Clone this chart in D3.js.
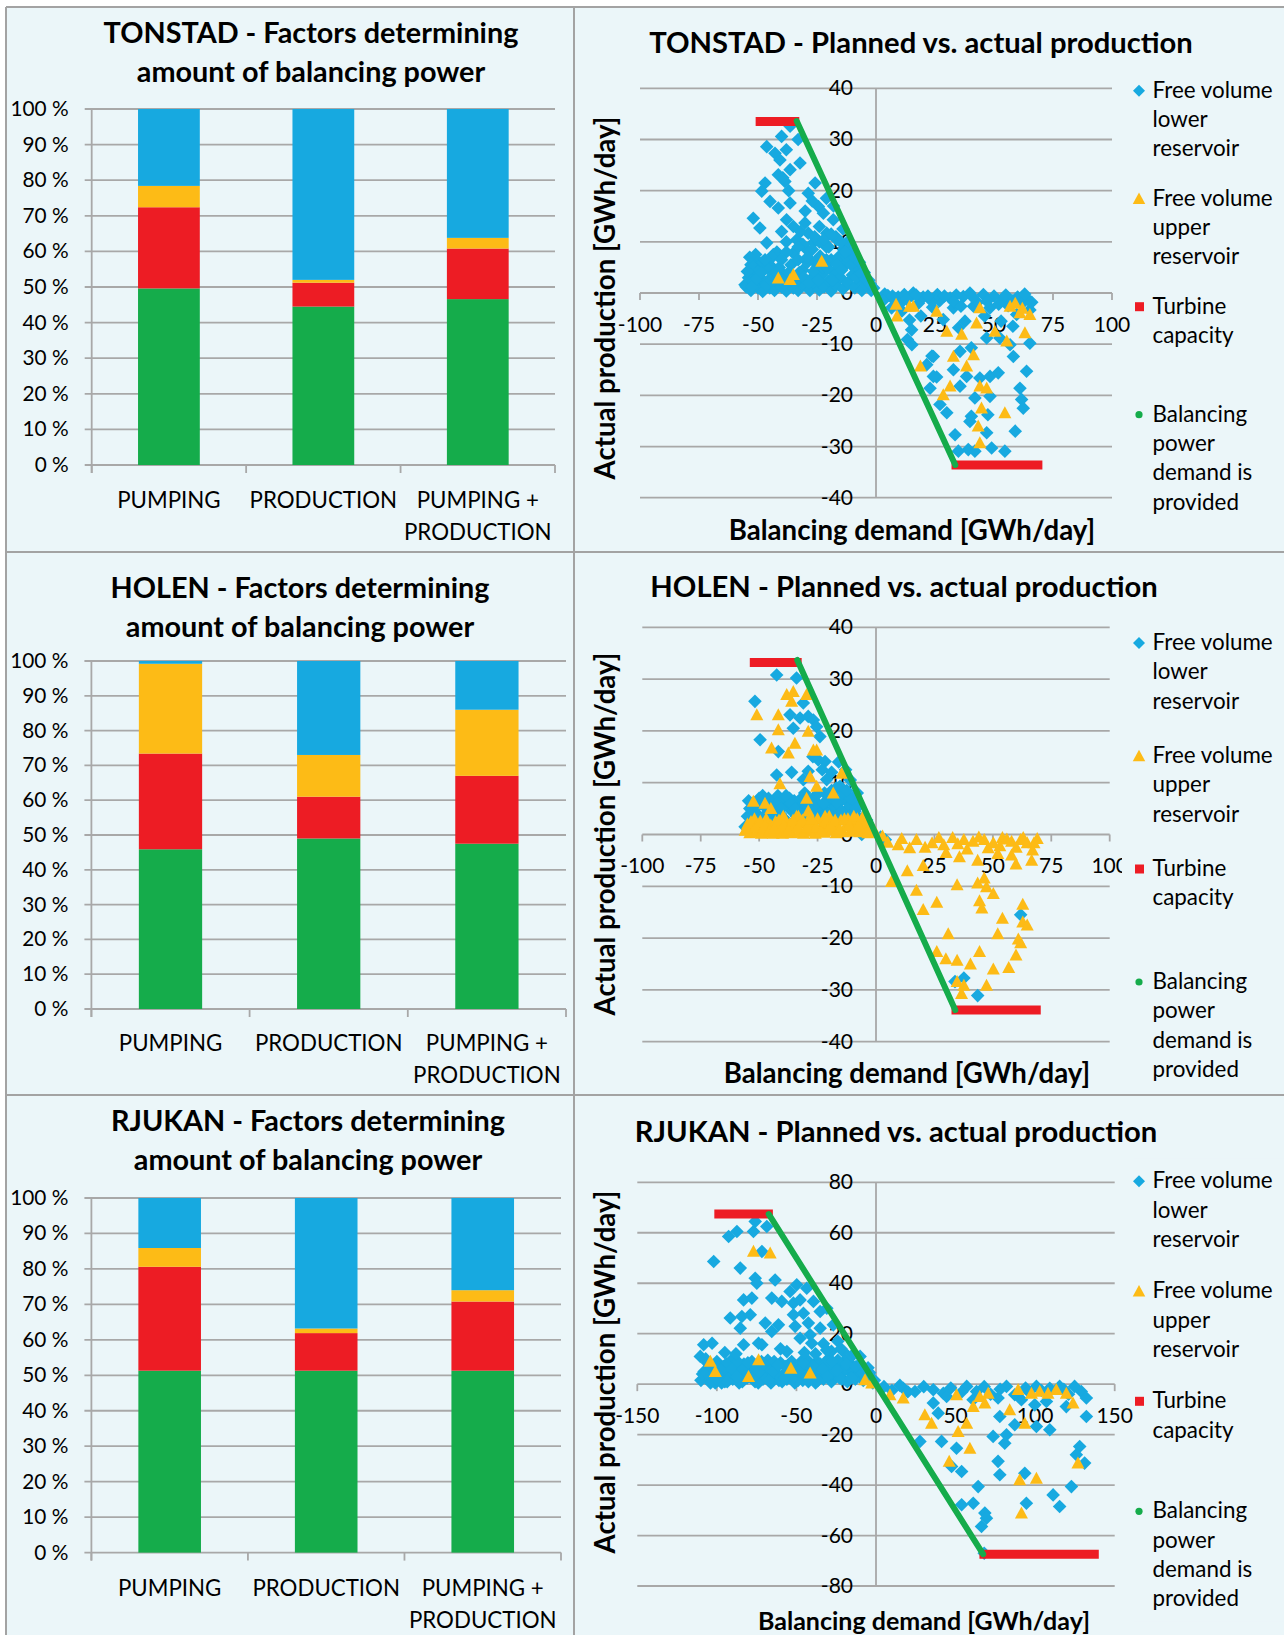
<!DOCTYPE html>
<html>
<head>
<meta charset="utf-8">
<script src="https://cdn.jsdelivr.net/npm/d3@7"></script>
<style>
  html, body { margin: 0; padding: 0; background: #ffffff; }
  svg { display: block; font-family: Lato, "Open Sans", sans-serif; }
</style>
</head>
<body>
<svg id="chart" width="1284" height="1635"></svg>
<script>
// ------------------------------------------------------------------
// Data
// ------------------------------------------------------------------
const categories = ["PUMPING", "PRODUCTION", "PUMPING + PRODUCTION"];
const pctTicks = [0, 10, 20, 30, 40, 50, 60, 70, 80, 90, 100];

// Share (%) of days where each factor determined the amount of balancing power
const tonstadProvidedShare = [49.6, 44.5, 46.6];
const tonstadTurbineShare  = [22.8, 6.7, 14.2];
const tonstadUpperShare    = [6.0, 0.8, 3.0];
const tonstadLowerShare    = [21.6, 48.0, 36.2];

const holenProvidedShare = [45.9, 49.0, 47.5];
const holenTurbineShare  = [27.5, 12.0, 19.5];
const holenUpperShare    = [25.8, 12.0, 19.0];
const holenLowerShare    = [0.8, 27.0, 14.0];

const rjukanProvidedShare = [51.3, 51.3, 51.3];
const rjukanTurbineShare  = [29.3, 10.6, 19.5];
const rjukanUpperShare    = [5.3, 1.3, 3.2];
const rjukanLowerShare    = [14.1, 36.8, 26.0];

// Scatter axes ticks
const tickStep25 = [-100, -75, -50, -25, 0, 25, 50, 75, 100];
const tickStep50 = [-150, -100, -50, 0, 50, 100, 150];
const yTicks40 = [-40, -30, -20, -10, 0, 10, 20, 30, 40];
const yTicks80 = [-80, -60, -40, -20, 0, 20, 40, 60, 80];

// TONSTAD: [balancing demand, actual production] in GWh/day
const tonstadLowerPts = [
  [-36.4,32.6],[-40,30.6],[-46.3,28.6],[-42.8,27.3],[-40.7,26],[-32.2,25.4],[-36.4,24.1],[-41.4,23.1],
  [-38.6,21.8],[-47,21.5],[-48.4,19.9],[-25.8,21.5],[-28.7,19.5],[-44.9,17.9],[-36.4,17.6],[-41.4,16.6],
  [-24.4,16.9],[-22.3,15.6],[-52,14.6],[-49.2,12.7],[-37.9,14.3],[-30.1,13.7],[-40,12],[-33.6,10.4],
  [-46.3,9.8],[-28.7,11.7],[-18.1,14.3],[-20.9,11.7],[-26.6,9.8],[-43.5,7.5],[-50.6,6.5],[-35,7.8],
  [-29.4,8.5],[-23.7,7.2],[-13.8,8.5],[-16.7,10.4],[-11.7,9.8],[-49.2,5.2],[-52.7,3.3],[-55.5,1.6],
  [-38,28],[-39.5,22.5],[-37,20],[-27,18],[-30,16],[-35,13],[-32,12],[-24,13],[-21,9],[-31,9.5],
  [-38,10],[-45,5.5],[-42,8],[-26,6],[-19,6.5],[-15,7],[-33,30],
  [-55,1.2],[-54,3],[-53,0.5],[-52,2.2],[-51,4.5],[-50,1],[-49,3],[-48,0.3],[-47,2],[-46,4.8],
  [-45,1],[-44,3.2],[-43,0.5],[-42,2],[-41,5],[-40,1.2],[-39,3.5],[-38,0.4],[-37,2.5],[-36,5.5],
  [-35,1],[-34,3],[-33,0.5],[-32,2],[-31,4.5],[-30,1.5],[-29,6],[-28,0.5],[-27,3],[-26,1.8],
  [-25,5],[-24,0.6],[-23,3.5],[-22,1.2],[-21,6.5],[-20,2.4],[-19,0.4],[-18,4],[-17,1.5],[-16,7],
  [-15,3],[-14,0.8],[-13,5.5],[-12,2],[-11,8],[-10,3.5],[-9,1],[-8,5],[-7,2.5],[-6,0.5],
  [-5,4],[-4,1.5],[-3,2.5],[-2,0.5],[-1,1],[-53,5.5],[-48,6],[-44,7],[-38,8],[-33,9],
  [-27,8.5],[-24,10],[-20,9],[-17,11],[-14,12.5],[-12,10],
  [-54.5,4.2],[-52.5,1.2],[-50.5,2.8],[-48.5,4],[-46.5,1.5],[-44.5,2.5],[-42.5,4],[-40.5,2.8],
  [-38.5,1.8],[-36.5,3.8],[-34.5,2],[-32.5,4],[-30.5,3],[-28.5,2],[-26.5,4.2],[-24.5,2.5],
  [-22.5,5],[-20.5,4.8],[-18.5,2.5],[-16.5,5.5],[-14.5,4.5],[-12.5,7],[-10.5,5.5],[-8.5,3],
  [-6.5,3.8],[-4.5,2.8],[-2.5,1.8],[-26,11],[-22,10.5],[-19,11.5],[-15,10],[-13,8],[-9,7],
  [-7,6],[-18,17],[-21,18.5],[-29,7],[-33,6.5],[-40,6.5],[-37,4],[-47,6.5],[-51,7.5],[-53.5,7],
  [3.7,-0.2],[9.4,-0.8],[15.2,-0.5],[6.6,-2.9],[14.2,-5.3],[13.3,-9.1],[15.2,-10.1],[23.7,-12.3],
  [25.7,-16.4],[15.8,0],[23.6,-1.6],[31.4,-1],[37,-0.7],[39.8,0],[45.5,-0.3],[53.9,-1],[64.5,-1.3],
  [32.8,-2.9],[41.3,-2.6],[48.3,-2.9],[59.6,-4.2],[65.2,-3.3],[28.5,-5.2],[37.7,-5.5],[15.1,-7.2],
  [46.9,-8.8],[52.5,-8.8],[65.2,-9.8],[56.8,-10.1],[24.3,-12.4],[35.6,-11.4],[40.4,-10.7],[58.2,-12.4],
  [21.5,-14],[32.8,-15],[63.8,-15.3],[24.3,-16.3],[38.4,-16.3],[44,-16.6],[48.3,-16.3],[51.8,-15.6],
  [22.9,-18.6],[35.6,-18.2],[61,-18.6],[41.9,-20.5],[48.3,-20.2],[61.7,-20.8],[27.1,-21.8],[62.4,-22.5],
  [30,-23.4],[40.4,-24.1],[47.4,-23.8],[39.8,-25.1],[59,-27],[33.5,-27.7],[46.9,-27.3],[34.9,-30.9],
  [39.1,-30.6],[41.9,-30.9],[49,-30.3],[54.6,-30.9],
  [5,-0.5],[8,-1.5],[12,-0.3],[18,-2],[20,-0.8],[27,-1.5],[34,-0.4],[43,-1.8],[50,-0.6],[56,-2.5],
  [60,-0.8],[62,-2],[11,-3.5],[19,-4.5],[26,-0.3],
  [3,-1.5],[7,-0.6],[10,-2.2],[13,-1.2],[17,-0.4],[22,-0.6],[24,-2.8],[29,-0.6],[33,-1.7],[36,-2.6],
  [41,-0.8],[47,-1.6],[52,-2.2],[55,-0.4],[58,-1.5],[63,-0.2],[66,-1.8],[46,-4.5],[53,-5.5],[58,-6.5],
  [35,-6.8]
];
const tonstadUpperPts = [
  [-41.4,2.9],[-35,3.6],[-36.4,2.6],[-23,6.2],
  [8.5,-2.2],[14.2,-2.6],[8.9,-4.5],[15.8,-2.6],[25.7,-3.6],[44,-2.9],[56.8,-2.6],[61,-3.9],
  [65.2,-4.2],[42.6,-5.9],[50.4,-7.5],[30,-7.5],[63.1,-7.8],[36.3,-8.1],[55.4,-9.4],[32.8,-12.4],
  [41.3,-12.1],[18.8,-14.3],[38.4,-14.3],[31.4,-18.2],[28.5,-19.9],[44,-18.2],[46.9,-18.6],
  [44.7,-22.5],[54.6,-23.4],[43.3,-26],[44,-29.3],[59,-2],[62,-3]
];
const tonstadTurbineTop    = [[-51, 33.5], [-32.5, 33.5]];
const tonstadTurbineBottom = [[32, -33.6], [70.5, -33.6]];
const tonstadProvided      = [[-33.6, 33.6], [33.6, -33.6]];

// HOLEN
const holenLowerPts = [
  [-42.5,30.8],[-34,30.2],[-51.8,25.7],[-31.1,25.4],[-36.8,23.1],[-32.5,22.5],[-29,22.8],[-26.8,22.1],
  [-35.4,20.5],[-25.4,20.8],[-49.6,18.3],[-41.8,16],[-24,18.9],[-24.7,14.4],[-21.8,14.1],[-42.5,11.5],
  [-36.1,12],[-29,12.2],[-21.1,10.6],[-31.1,10.6],[-15.4,9.3],[-13.3,6.7],[-9.7,6],[-56,1.5],
  [-6.1,0],[-4,2.8],[-23,12.5],[-27,15],[-19,8.5],
  [-55,3.5],[-54,5],[-53,2.5],[-52,6],[-51,4],[-50,7],[-49,3],[-48,5.5],[-47,4],[-46,7],
  [-45,3.5],[-44,6],[-43,5],[-42,7.5],[-41,4],[-40,6.5],[-39,3],[-38,5.5],[-37,7],[-36,4.5],
  [-35,6.5],[-34,3.5],[-33,5],[-32,7],[-31,4],[-30,6],[-29,3],[-28,5],[-27,7],[-26,4],
  [-25,6],[-24,3],[-23,5],[-22,8],[-21,4.5],[-20,6.5],[-19,3.5],[-18,5],[-17,9],[-16,4],
  [-15,6.5],[-14,8],[-13,3],[-12,5],[-11,7],[-10,2.5],[-9,4.5],[-8,6],[-7,3],[-6,1],
  [-5,3.5],[-4,2],[-3,1],
  [-54.5,6.5],[-52.5,4.5],[-50.5,5.5],[-48.5,7.5],[-46.5,5.5],[-44.5,4.5],[-42.5,6],[-40.5,5],
  [-38.5,7.5],[-36.5,6],[-34.5,5],[-32.5,4],[-30.5,8],[-28.5,6.5],[-26.5,5.5],[-24.5,8],
  [-22.5,6],[-20.5,4],[-18.5,7.5],[-16.5,6],[-14.5,4.5],[-12.5,8.5],[-10.5,4],[-8.5,5],
  [-11,10.5],[-8,8],[-19,12],[-13,12.5],[-16,14],
  [61.9,-15.5],[33.8,-28.4],[37.6,-27.7],[43.5,-31.1],[2,-0.5],[4,-1]
];
const holenUpperPts = [
  [-38.2,27],[-35.4,27.6],[-29.7,27],[-36.1,25.7],[-51,23.1],[-41.8,23.1],[-41.8,20.2],[-29,19.9],
  [-34.7,17.6],[-44.7,16.7],[-37.5,15.7],[-26.8,16.3],[-25.4,16.3],[-14.7,11.8],[-28.2,11.2],
  [-41.1,9.8],[-25.4,9.3],[-18.3,8],[-29.7,7],[-52.5,6.4],[-47.5,6],
  [-56,0.8],[-55,2],[-54,0.3],[-53,1.5],[-52,3],[-51,0.5],[-50,2],[-49,0.2],[-48,1.2],[-47,3],
  [-46,0.4],[-45,1.8],[-44,0.2],[-43,2.5],[-42,0.8],[-41,1.5],[-40,0.2],[-39,3],[-38,1],[-37,2],
  [-36,0.3],[-35,1.5],[-34,3.5],[-33,0.5],[-32,2.2],[-31,0.2],[-30,1.2],[-29,2.8],[-28,0.6],[-27,1.8],
  [-26,0.2],[-25,3],[-24,1],[-23,2],[-22,0.4],[-21,1.5],[-20,3.5],[-19,0.8],[-18,2],[-17,0.3],
  [-16,1.2],[-15,2.8],[-14,0.5],[-13,1.6],[-12,3],[-11,0.6],[-10,2],[-9,1],[-8,3],[-7,0.5],
  [-6,1.8],[-5,0.8],[-4,2.5],[-3,1.2],[-2,0.5],[-1,1],
  [-39.7,3.5],[-33.2,3.5],[-21.8,3.5],[-45,5],[-29,4.5],
  [-55.5,1.2],[-53.5,2.5],[-51.5,1.5],[-49.5,2.6],[-47.5,1.8],[-45.5,0.8],[-43.5,1.2],[-41.5,2.8],
  [-39.5,1.8],[-37.5,0.8],[-35.5,2.8],[-33.5,1.5],[-31.5,2.8],[-29.5,1.5],[-27.5,3],[-25.5,1.5],
  [-23.5,0.6],[-21.5,2.8],[-19.5,1.8],[-17.5,2.8],[-15.5,1],[-13.5,3],[-11.5,1.8],[-9.5,3.5],
  [-7.5,1.8],[-5.5,3.5],[-3.5,0.3],
  [2.8,-0.3],[9.5,-2],[14.4,-2.6],[17.3,-1],[24,-1.6],[26.9,-0.6],[32.8,-0.6],[37.6,-1],[41.5,-1.3],
  [46.3,-1],[50.2,-1.6],[54.1,-0.6],[58,-1.3],[61.9,-1],[64.7,-1.6],[67.6,-1.6],[35.7,-4.3],[43.5,-5],
  [52.1,-3.7],[59.9,-5.7],[66.6,-5],[20.2,-6],[13.4,-7],[6.6,-9.1],[34.7,-9.7],[43.5,-9.4],[46.3,-8.4],
  [47.3,-10.1],[17.3,-10.8],[50.2,-11.4],[44.3,-12.8],[45.3,-14.2],[26,-13.1],[20.2,-14.5],[62.8,-13.5],
  [54.1,-16.2],[62.8,-16.9],[64.7,-17.5],[30.9,-19.2],[52.1,-19.2],[60.9,-20.2],[61.9,-20.9],[26,-22.6],
  [29.9,-24],[34.7,-24.3],[44.3,-22.6],[40.4,-25],[59.9,-23.3],[50.2,-26],[56.8,-25.7],[34.7,-28.4],
  [37.6,-29.1],[36.6,-30.7],[47.3,-29.1],
  [5,-1.5],[11,-0.8],[21,-2.5],[29,-2],[35,-1.8],[39,-2.8],[44,-0.5],[48,-2.6],[53,-2.2],[56,-0.9],
  [60,-2.5],[63,-0.6],[67,-3],[69,-0.8],[30,-3.5],[58,-4]
];
const holenTurbineTop    = [[-54, 33.2], [-31.8, 33.2]];
const holenTurbineBottom = [[32.3, -33.9], [70.5, -33.9]];
const holenProvided      = [[-33.7, 33.7], [33.9, -33.9]];

// RJUKAN
const rjukanLowerPts = [
  [-75.9,64.5],[-68.6,62.5],[-77,60.5],[-92.6,58.5],[-87.4,60.5],[-71.7,52.6],[-102,48.6],[-85.3,46],
  [-75.9,42],[-74.9,40],[-63.4,41.3],[-49.8,39.4],[-54,36.7],[-43.5,38],[-83.2,33.4],[-78,34.1],
  [-65.5,34.1],[-59.2,32.8],[-51.9,32.1],[-47.7,33.4],[-39.3,32.8],[-91.6,26.2],[-84.3,26.8],[-79,27.5],
  [-85.3,22.2],[-69.6,24.2],[-61.3,23.5],[-51.9,27.5],[-45.6,28.1],[-42.5,24.2],[-35.1,28.8],[-30.9,30.1],
  [-65.5,20.9],[-50.8,22.9],[-47.7,18.2],[-41.4,19.6],[-40.4,16.2],[-35.1,22.2],[-26.8,23.5],[-108.3,15.6],
  [-103,16.2],[-83.2,15.6],[-73.8,16.2],[-71.7,15.6],[-110.4,11],[-56,12.9],[-20.5,12.9],[-18.4,9],
  [-110,1.5],[-108,5],[-106,8.5],[-105,2.5],[-103,6],[-101,0.5],[-100,9],[-98,3.5],[-96,7],[-95,1],
  [-93,4.5],[-91,9.5],[-90,2],[-88,6.5],[-86,0.5],[-85,4],[-83,8],[-81,2.5],[-80,5.5],[-78,9],
  [-76,1],[-75,4],[-73,7],[-71,2],[-70,5],[-68,9.5],[-66,0.5],[-65,3.5],[-63,6.5],[-61,1.5],
  [-60,8.5],[-58,4],[-56,2],[-55,6],[-53,9],[-51,0.5],[-50,3.5],[-48,7],[-46,1.5],[-45,5],
  [-43,9.5],[-41,2.5],[-40,6],[-38,0.5],[-36,4],[-35,8],[-33,2],[-31,5.5],[-30,10],[-28,1],
  [-26,4],[-25,7.5],[-23,2.5],[-21,6],[-20,9],[-18,1],[-16,4.5],[-15,7.5],[-13,2],[-11,5],
  [-10,8],[-8,1.5],[-6,4],[-5,6.5],[-3,2],[-2,0.5],[-28,13],[-33,16],[-24,17],
  [-109,4],[-107,10],[-104,0.5],[-102,3.5],[-99,7],[-97,0.5],[-94,8],[-92,2.5],[-89,5],[-87,9],
  [-84,1],[-82,5.5],[-79,3],[-77,7],[-74,0.5],[-72,9],[-69,2.5],[-67,6],[-64,9],[-62,4],
  [-59,1],[-57,7],[-54,3.5],[-52,5.5],[-49,1.5],[-47,9],[-44,3],[-42,7],[-39,4],[-37,9],
  [-34,5],[-32,8],[-29,3.5],[-27,6],[-24,9.5],[-22,4],[-19,6.5],[-17,10],[-14,5],[-12,3.5],
  [-9,6],[-7,3],[-4,4.5],[-1,1.5],
  [-106.5,4.5],[-104.5,7.5],[-100.5,2],[-97.5,5.5],[-93.5,1],[-90.5,6],[-87.5,3],[-83.5,6],
  [-80.5,8.5],[-77.5,2.5],[-73.5,5],[-70.5,8],[-67.5,1.5],[-64.5,5],[-61.5,7.5],[-57.5,2.5],
  [-54.5,8],[-51.5,3],[-48.5,5],[-45.5,8.5],[-42.5,1],[-39.5,7],[-36.5,1.5],[-33.5,6],[-30.5,3],
  [-27.5,9],[-24.5,5.5],[-21.5,2],[-18.5,8],[-15.5,2.5],[-12.5,7],[-8.5,4.5],[-10,11],[-14,12],
  [-22,14],[-31,13.5],[-38,12],[-45,12.5],[-60,14],[-88,12],[-95,12.5],
  [17.1,-1.6],[24.5,-2.9],[36,-2.2],[42.3,-3.6],[57,-0.9],[63.2,-2.9],[82,-0.9],[87.2,-4.2],[100.8,-0.9],
  [109.2,-1.6],[115.4,-0.9],[124.8,-0.9],[129,-2.9],[132.2,-5.5],[36,-7.5],[44.4,-4.9],[61,-6.2],
  [76.7,-5.5],[91.4,-6.2],[99.8,-8.2],[107.1,-6.9],[119.6,-8.9],[132.2,-12.8],[39.1,-11.5],[77.8,-12.8],
  [87.2,-16.1],[100.8,-16.8],[109.2,-18.1],[73.6,-20.7],[82,-20.1],[80.9,-23.4],[27.6,-22.7],[41.2,-22.7],
  [50.6,-25.4],[128,-24.7],[125.9,-28],[131.1,-31.3],[47.5,-32.6],[53.8,-34.6],[76.7,-30.6],[77.8,-35.9],
  [93.5,-35.3],[122.8,-40.6],[64.2,-40.6],[111.3,-43.9],[115.4,-48.5],[53.8,-47.8],[61.1,-47.2],
  [94.5,-47.2],[68.4,-51.1],[69.4,-53.1],[66.3,-56.4],
  [5,-1],[10,-2.5],[15,-0.5],[20,-3],[30,-1],[47,-1.5],[54,-3],[68,-1],[72,-4],[78,-2],[94,-1.5],
  [96,-3],[104,-2.5],[118,-2],[121,-4],[68,-67]
];
const rjukanUpperPts = [
  [-77,52.6],[-66.5,51.9],[-104.1,9],[-101,5],[-80.1,3],[-73.8,9.6],[-53.5,6.3],[-41.4,4.4],
  [-6.9,1.7],[-2.7,0.4],[8.8,-4.2],
  [17.1,-5.5],[30.7,-12.2],[34.9,-15.5],[50.6,-4.2],[51.6,-18.8],[57,-15.5],[61.1,-8.9],[65.2,-4.9],
  [70.5,-3.6],[68.4,-7.5],[59,-25.4],[46,-30.6],[84,-10.2],[89.3,-2.2],[93.5,-15.5],[97.7,-3.6],
  [102.9,-2.9],[108.1,-3.6],[113.3,-2.2],[119.6,-3.6],[123.8,-7.5],[90.3,-37.9],[100.8,-37.3],
  [91.4,-51.1],[126.9,-31.3]
];
const rjukanTurbineTop    = [[-101.6, 67.4], [-64.8, 67.4]];
const rjukanTurbineBottom = [[65, -67.4], [140, -67.4]];
const rjukanProvided      = [[-67.4, 67.4], [67.3, -67.4]];

// ------------------------------------------------------------------
// Style
// ------------------------------------------------------------------
const W = 1284, H = 1635;
const PANEL_BG = "#EBF6F9";
const FRAME = "#A3A3A3";
const GRID = "#A8A8A8";
const C_PROVIDED = "#15AC4B";
const C_TURBINE = "#ED1C24";
const C_UPPER = "#FDBB16";
const C_LOWER = "#17A9E0";

const svg = d3.select("#chart");

// Panel background and dividing lines
svg.append("rect").attr("x", 6).attr("y", 7).attr("width", W - 6).attr("height", H - 7)
  .attr("fill", PANEL_BG);
const frame = svg.append("g").attr("stroke", FRAME).attr("stroke-width", 2);
[[6, 7, 6, H], [6, 7, W, 7], [574, 7, 574, H], [6, 552, W, 552], [6, 1095, W, 1095]]
  .forEach(([x1, y1, x2, y2]) => frame.append("line")
    .attr("x1", x1).attr("y1", y1).attr("x2", x2).attr("y2", y2));

// ------------------------------------------------------------------
// Stacked 100 % bar chart
// ------------------------------------------------------------------
function drawFactorBars(opt) {
  const g = svg.append("g");
  const rows = categories.map((c, i) => ({
    cat: c,
    provided: opt.provided[i],
    turbine: opt.turbine[i],
    upper: opt.upper[i],
    lower: opt.lower[i]
  }));
  const keys = ["provided", "turbine", "upper", "lower"];
  const colors = { provided: C_PROVIDED, turbine: C_TURBINE, upper: C_UPPER, lower: C_LOWER };

  const x = d3.scaleBand().domain(categories).range([opt.x0, opt.x1])
    .paddingInner(0.6).paddingOuter(0.3);
  const y = d3.scaleLinear().domain([0, 100]).range([opt.yBot, opt.yTop]);
  const step = x.step();

  // gridlines (0 % doubles as the category axis)
  g.append("g").selectAll("line").data(pctTicks).join("line")
    .attr("x1", opt.x0 - 7).attr("x2", opt.x1)
    .attr("y1", d => y(d)).attr("y2", d => y(d))
    .attr("stroke", GRID).attr("stroke-width", 1.8);
  // value axis
  g.append("line").attr("x1", opt.x0).attr("x2", opt.x0)
    .attr("y1", y(100)).attr("y2", y(0) + 8)
    .attr("stroke", GRID).attr("stroke-width", 1.8);
  // category boundary ticks
  g.append("g").selectAll("line").data(d3.range(categories.length + 1)).join("line")
    .attr("x1", i => opt.x0 + i * step).attr("x2", i => opt.x0 + i * step)
    .attr("y1", y(0)).attr("y2", y(0) + 8)
    .attr("stroke", GRID).attr("stroke-width", 1.8);

  // stacked bars
  const stacked = d3.stack().keys(keys)(rows);
  g.append("g").selectAll("g").data(stacked).join("g")
    .attr("fill", s => colors[s.key])
    .selectAll("rect").data(s => s).join("rect")
    .attr("x", d => x(d.data.cat))
    .attr("width", x.bandwidth())
    .attr("y", d => y(d[1]))
    .attr("height", d => y(d[0]) - y(d[1]));

  // tick labels
  g.append("g").selectAll("text").data(pctTicks).join("text")
    .attr("x", opt.x0 - 23).attr("y", d => y(d) + 7)
    .attr("text-anchor", "end").attr("font-size", 20.8).attr("fill", "#000")
    .text(d => d + " %");

  // category labels (wrapped after "+")
  categories.forEach(c => {
    const lines = c.replace("+ ", "+\n").split("\n");
    lines.forEach((ln, k) => {
      g.append("text")
        .attr("x", x(c) + x.bandwidth() / 2)
        .attr("y", opt.catBase + k * 32)
        .attr("text-anchor", "middle").attr("font-size", 22.3).attr("fill", "#000")
        .text(ln);
    });
  });

  // title
  [opt.station + " - Factors determining", "amount of balancing power"].forEach((t, k) => {
    g.append("text").attr("x", opt.titleX).attr("y", opt.titleBase + k * 39)
      .attr("text-anchor", "middle").attr("font-size", 28.8).attr("font-weight", 700)
      .attr("fill", "#000").text(t);
  });
}

// ------------------------------------------------------------------
// Scatter: planned vs. actual production
// ------------------------------------------------------------------
const diamond = r => `M0,${-r}L${r},0L0,${r}L${-r},0Z`;
const triangle = (w, h) => `M0,${-h * 0.55}L${w / 2},${h * 0.45}L${-w / 2},${h * 0.45}Z`;

function drawProductionScatter(opt) {
  const g = svg.append("g");
  const x = d3.scaleLinear().domain(d3.extent(opt.xTicks)).range([opt.xL, opt.xR]);
  const y = d3.scaleLinear().domain(d3.extent(opt.yTicks)).range([opt.yB, opt.yT]);
  const x0 = x(0), y0 = y(0);

  // horizontal gridlines
  g.append("g").selectAll("line").data(opt.yTicks).join("line")
    .attr("x1", opt.xL).attr("x2", opt.xR)
    .attr("y1", d => y(d)).attr("y2", d => y(d))
    .attr("stroke", GRID).attr("stroke-width", 1.8);
  // vertical axis through x = 0
  g.append("line").attr("x1", x0).attr("x2", x0)
    .attr("y1", opt.yT).attr("y2", opt.yB)
    .attr("stroke", GRID).attr("stroke-width", 1.8);
  // tick marks on the horizontal axis
  g.append("g").selectAll("line").data(opt.xTicks).join("line")
    .attr("x1", d => x(d)).attr("x2", d => x(d))
    .attr("y1", y0).attr("y2", y0 + 7)
    .attr("stroke", GRID).attr("stroke-width", 1.8);

  // tick labels
  g.append("g").selectAll("text").data(opt.xTicks).join("text")
    .attr("x", d => x(d)).attr("y", y0 + 38.5)
    .attr("text-anchor", "middle").attr("font-size", 21).attr("fill", "#000")
    .text(d => d);
  g.append("g").selectAll("text").data(opt.yTicks).join("text")
    .attr("x", x0 - 23).attr("y", d => y(d) + 7)
    .attr("text-anchor", "end").attr("font-size", 21).attr("fill", "#000")
    .text(d => d);

  // free volume lower reservoir
  g.append("g").attr("fill", C_LOWER).selectAll("path").data(opt.lower).join("path")
    .attr("d", diamond(6.8))
    .attr("transform", d => `translate(${x(d[0])},${y(d[1])})`);
  // free volume upper reservoir
  g.append("g").attr("fill", C_UPPER).selectAll("path").data(opt.upper).join("path")
    .attr("d", triangle(13, 12))
    .attr("transform", d => `translate(${x(d[0])},${y(d[1])})`);
  // turbine capacity limits
  const line = d3.line().x(d => x(d[0])).y(d => y(d[1]));
  [opt.turbineTop, opt.turbineBottom].forEach(seg => {
    g.append("path").attr("d", line(seg)).attr("fill", "none")
      .attr("stroke", C_TURBINE).attr("stroke-width", 9);
  });
  // balancing power demand is provided
  g.append("path").attr("d", line(opt.provided)).attr("fill", "none")
    .attr("stroke", C_PROVIDED).attr("stroke-width", 6).attr("stroke-linecap", "round");

  // legend
  const items = [
    { lines: ["Free volume", "lower", "reservoir"], mark: "diamond" },
    { lines: ["Free volume", "upper", "reservoir"], mark: "triangle" },
    { lines: ["Turbine", "capacity"], mark: "square" },
    { lines: ["Balancing", "power", "demand is", "provided"], mark: "dot" }
  ];
  const lg = g.append("g");
  lg.append("rect").attr("x", opt.legendX).attr("y", opt.legendTop - 30)
    .attr("width", W - opt.legendX).attr("height", opt.legendGap * 3 + 3 * 29.3 + 45)
    .attr("fill", PANEL_BG);
  items.forEach((it, i) => {
    const base = opt.legendTop + i * opt.legendGap;
    const my = base - 7;
    if (it.mark === "diamond") lg.append("path").attr("d", diamond(6)).attr("fill", C_LOWER)
      .attr("transform", `translate(1139,${my})`);
    if (it.mark === "triangle") lg.append("path").attr("d", triangle(12.5, 11.5)).attr("fill", C_UPPER)
      .attr("transform", `translate(1139,${my})`);
    if (it.mark === "square") lg.append("rect").attr("x", 1135).attr("y", my - 4.5)
      .attr("width", 9).attr("height", 9).attr("fill", C_TURBINE);
    if (it.mark === "dot") lg.append("circle").attr("cx", 1139).attr("cy", my).attr("r", 3.6)
      .attr("fill", C_PROVIDED);
    it.lines.forEach((ln, k) => {
      lg.append("text").attr("x", 1152.5).attr("y", base + k * 29.3)
        .attr("font-size", 22.4).attr("fill", "#000").text(ln);
    });
  });

  // titles
  g.append("text").attr("x", opt.titleX).attr("y", opt.titleBase)
    .attr("text-anchor", "middle").attr("font-size", 29.2).attr("font-weight", 700)
    .attr("fill", "#000").text(opt.station + " - Planned vs. actual production");
  g.append("text").attr("x", opt.xTitleX).attr("y", opt.xTitleBase)
    .attr("text-anchor", "middle").attr("font-size", opt.xTitleSize).attr("font-weight", 700)
    .attr("fill", "#000").text("Balancing demand [GWh/day]");
  g.append("text")
    .attr("transform", `translate(615,${opt.yTitleY}) rotate(-90)`)
    .attr("text-anchor", "middle").attr("font-size", 27.6).attr("font-weight", 700)
    .attr("fill", "#000").text("Actual production [GWh/day]");
}

// ------------------------------------------------------------------
// Panels
// ------------------------------------------------------------------
drawFactorBars({
  station: "TONSTAD",
  provided: tonstadProvidedShare, turbine: tonstadTurbineShare,
  upper: tonstadUpperShare, lower: tonstadLowerShare,
  x0: 91.7, x1: 555, yTop: 109, yBot: 465,
  titleX: 311, titleBase: 42.5, catBase: 508
});
drawFactorBars({
  station: "HOLEN",
  provided: holenProvidedShare, turbine: holenTurbineShare,
  upper: holenUpperShare, lower: holenLowerShare,
  x0: 91.4, x1: 566, yTop: 661, yBot: 1009,
  titleX: 300, titleBase: 597.6, catBase: 1051
});
drawFactorBars({
  station: "RJUKAN",
  provided: rjukanProvidedShare, turbine: rjukanTurbineShare,
  upper: rjukanUpperShare, lower: rjukanLowerShare,
  x0: 91.4, x1: 561, yTop: 1198, yBot: 1552.6,
  titleX: 308, titleBase: 1131, catBase: 1595.7
});

drawProductionScatter({
  station: "TONSTAD",
  lower: tonstadLowerPts, upper: tonstadUpperPts,
  turbineTop: tonstadTurbineTop, turbineBottom: tonstadTurbineBottom, provided: tonstadProvided,
  xTicks: tickStep25, yTicks: yTicks40,
  xL: 640, xR: 1112, yT: 88.3, yB: 497.7,
  titleX: 921, titleBase: 53, xTitleX: 912, xTitleBase: 540, xTitleSize: 27.6, yTitleY: 298,
  legendX: 1131, legendTop: 97.7, legendGap: 108
});
drawProductionScatter({
  station: "HOLEN",
  lower: holenLowerPts, upper: holenUpperPts,
  turbineTop: holenTurbineTop, turbineBottom: holenTurbineBottom, provided: holenProvided,
  xTicks: tickStep25, yTicks: yTicks40,
  xL: 642.3, xR: 1109.7, yT: 627.3, yB: 1041.7,
  titleX: 904, titleBase: 596.7, xTitleX: 907, xTitleBase: 1083, xTitleSize: 27.6, yTitleY: 834,
  legendX: 1122, legendTop: 650, legendGap: 113
});
drawProductionScatter({
  station: "RJUKAN",
  lower: rjukanLowerPts, upper: rjukanUpperPts,
  turbineTop: rjukanTurbineTop, turbineBottom: rjukanTurbineBottom, provided: rjukanProvided,
  xTicks: tickStep50, yTicks: yTicks80,
  xL: 637.3, xR: 1114.7, yT: 1182.3, yB: 1586,
  titleX: 896, titleBase: 1141.7, xTitleX: 924, xTitleBase: 1630, xTitleSize: 25, yTitleY: 1372,
  legendX: 1134, legendTop: 1188.3, legendGap: 110
});
</script>
</body>
</html>
